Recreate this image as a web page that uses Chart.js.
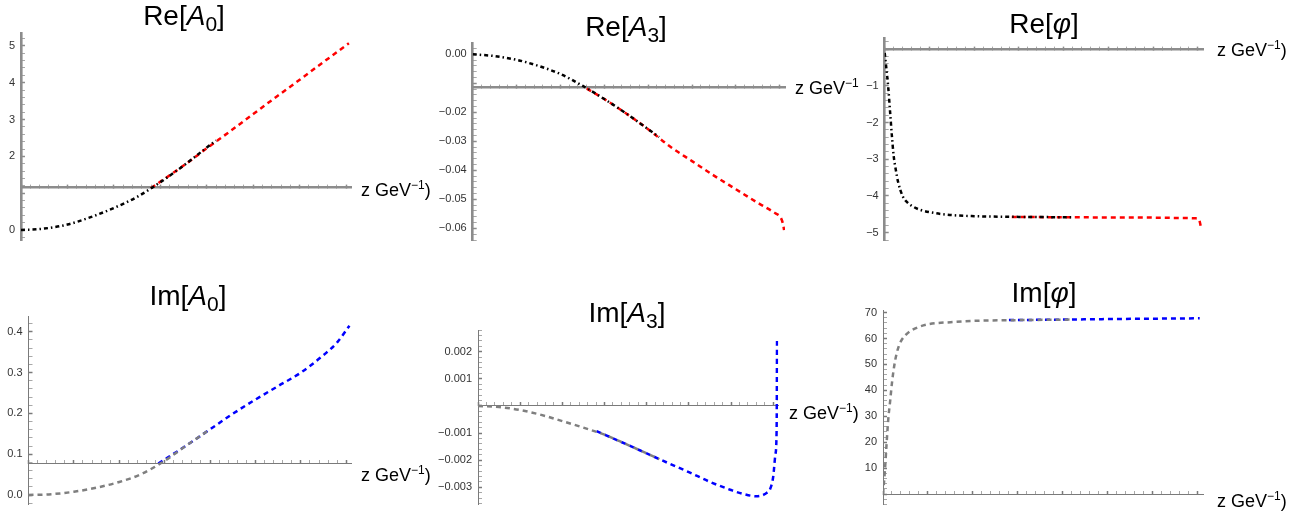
<!DOCTYPE html>
<html>
<head>
<meta charset="utf-8">
<script src="https://cdn.jsdelivr.net/npm/chart.js@4.4.1/dist/chart.umd.min.js"></script>
<style>
body { margin: 0; background: #fff; width: 1316px; height: 521px; position: relative; overflow: hidden; font-family: "Liberation Sans", Arial, sans-serif; }
canvas { position: absolute; }
.title { position: absolute; font-size: 28px; line-height: 28px; white-space: nowrap; transform: translateX(-50%); color: #000; }
.title sub { font-size: 21px; vertical-align: -6px; line-height: 0; }
.zlab { position: absolute; font-size: 18px; line-height: 18px; white-space: nowrap; color: #000; }
.zlab sup { font-size: 12px; vertical-align: 7px; line-height: 0; }
</style>
</head>
<body>
<canvas id="c1" width="430" height="260" style="left:0px;top:0px"></canvas>
<canvas id="c2" width="430" height="260" style="left:430px;top:0px"></canvas>
<canvas id="c3" width="456" height="260" style="left:860px;top:0px"></canvas>
<canvas id="c4" width="430" height="261" style="left:0px;top:260px"></canvas>
<canvas id="c5" width="430" height="261" style="left:430px;top:260px"></canvas>
<canvas id="c6" width="456" height="261" style="left:860px;top:260px"></canvas>

<div class="title" style="left:184px;top:2px">Re[<i>A</i><sub>0</sub>]</div>
<div class="title" style="left:626px;top:13px">Re[<i>A</i><sub>3</sub>]</div>
<div class="title" style="left:1044px;top:10px">Re[<i>φ</i>]</div>
<div class="title" style="left:188px;top:282px">Im[<i>A</i><sub>0</sub>]</div>
<div class="title" style="left:627px;top:299px">Im[<i>A</i><sub>3</sub>]</div>
<div class="title" style="left:1044px;top:279px">Im[<i>φ</i>]</div>

<div class="zlab" style="left:361px;top:181px">z GeV<sup>−1</sup>)</div>
<div class="zlab" style="left:795px;top:79px">z GeV<sup>−1</sup></div>
<div class="zlab" style="left:1217px;top:41px">z GeV<sup>−1</sup>)</div>
<div class="zlab" style="left:361px;top:466px">z GeV<sup>−1</sup>)</div>
<div class="zlab" style="left:789px;top:404px">z GeV<sup>−1</sup>)</div>
<div class="zlab" style="left:1217px;top:492px">z GeV<sup>−1</sup>)</div>

<script>
// Re[A0]
const zReA0Black = [0, 0.5, 1, 1.5, 2, 2.5, 3, 3.5, 4, 4.2];
const reA0Black = [0, 0.04, 0.15, 0.35, 0.6, 0.9, 1.3, 1.75, 2.24, 2.43];
const zReA0Red = [2.8, 3.5, 4, 4.5, 5, 5.5, 6, 6.5, 7.06];
const reA0Red = [1.14, 1.75, 2.22, 2.68, 3.15, 3.62, 4.08, 4.55, 5.07];
const reA0Ticks = [0, 2, 3, 4, 5];
const reA0Labels = ['0', '2', '3', '4', '5'];

// Re[A3]
const zReA3Black = [0, 0.5, 1, 1.5, 2, 2.5, 3, 3.5, 4, 4.25];
const reA3Black = [0, -0.0006, -0.0019, -0.004, -0.0068, -0.0108, -0.0154, -0.0204, -0.0258, -0.0285];
const zReA3Red = [2.6, 3, 3.5, 4, 4.5, 5, 5.5, 6, 6.5, 6.9, 7.02, 7.07, 7.1];
const reA3Red = [-0.0118, -0.0154, -0.0204, -0.0258, -0.0318, -0.0368, -0.0418, -0.0465, -0.0512, -0.0548, -0.0562, -0.0582, -0.0606];
const reA3Ticks = [0, -0.02, -0.03, -0.04, -0.05, -0.06];
const reA3Labels = ['0.00', '−0.02', '−0.03', '−0.04', '−0.05', '−0.06'];

// Re[phi]
const zRePhiBlack = [0, 0.04, 0.08, 0.12, 0.16, 0.2, 0.25, 0.3, 0.4, 0.5, 0.65, 0.8, 1, 1.4, 2, 3, 4.2];
const rePhiBlack = [-0.1, -0.55, -1.05, -1.7, -2.35, -2.9, -3.3, -3.62, -4.0, -4.17, -4.3, -4.38, -4.44, -4.51, -4.55, -4.57, -4.58];
const zRePhiRed = [2.84, 4, 5, 6, 6.6, 6.95, 7.02, 7.05, 7.07];
const rePhiRed = [-4.57, -4.58, -4.585, -4.59, -4.6, -4.61, -4.64, -4.75, -4.88];
const rePhiTicks = [-1, -2, -3, -4, -5];
const rePhiLabels = ['−1', '−2', '−3', '−4', '−5'];

// Im[A0]
const zImA0Gray = [0, 0.5, 1, 1.5, 2, 2.5, 3, 3.5, 4];
const imA0Gray = [0, 0.002, 0.008, 0.018, 0.032, 0.052, 0.084, 0.123, 0.161];
const zImA0Blue = [2.86, 3.5, 4, 4.5, 5, 5.5, 6, 6.5, 6.8, 7.07];
const imA0Blue = [0.077, 0.123, 0.161, 0.199, 0.234, 0.267, 0.3, 0.343, 0.374, 0.415];
const imA0Ticks = [0, 0.1, 0.2, 0.3, 0.4];
const imA0Labels = ['0.0', '0.1', '0.2', '0.3', '0.4'];

// Im[A3]
const zImA3Gray = [0, 0.5, 1, 1.5, 2, 2.5, 3, 3.5, 4, 4.3];
const imA3Gray = [0, -0.00004, -0.00015, -0.00033, -0.00056, -0.0008, -0.00106, -0.0014, -0.00175, -0.00196];
const zImA3Blue = [2.81, 3.5, 4, 4.5, 5, 5.5, 6, 6.3, 6.6, 6.85, 6.93, 7.0, 7.05, 7.08, 7.09];
const imA3Blue = [-0.00093, -0.0014, -0.00175, -0.0021, -0.00244, -0.0028, -0.0031, -0.00325, -0.00333, -0.0032, -0.00305, -0.0026, -0.0018, -0.0009, 0.0024];
const imA3Ticks = [0.002, 0.001, -0.001, -0.002, -0.003];
const imA3Labels = ['0.002', '0.001', '−0.001', '−0.002', '−0.003'];

// Im[phi]
const zImPhiGray = [0, 0.04, 0.08, 0.12, 0.16, 0.2, 0.25, 0.3, 0.35, 0.4, 0.5, 0.6, 0.8, 1, 1.5, 2, 3, 4.17];
const imPhiGray = [0, 8.5, 19.5, 29.5, 36, 43, 49.5, 54, 57, 59, 61.3, 62.8, 64.5, 65.5, 66.3, 66.8, 67.1, 67.3];
const zImPhiBlue = [2.8, 4, 5, 6, 7.04];
const imPhiBlue = [67.1, 67.3, 67.5, 67.65, 67.8];
const imPhiTicks = [10, 20, 30, 40, 50, 60, 70];
const imPhiLabels = ['10', '20', '30', '40', '50', '60', '70'];

const zMax = 7.12;
const dotDash = [4, 3, 1.5, 3];
const dashed = [5, 4];

const panels = [
  { id: 'c1', box: [0, 0, 430, 260], area: [21, 33, 351.7, 240], yMin: -0.27, yMax: 5.35, minor: 0.2, major: 1, axisAt: 1.15,
    ticks: reA0Ticks, labels: reA0Labels, thick: true,
    series: [[zReA0Black, reA0Black, '#000000', dotDash], [zReA0Red, reA0Red, '#ff0000', dashed]] },
  { id: 'c2', box: [430, 0, 430, 260], area: [472.7, 43.3, 785, 240], yMin: -0.064, yMax: 0.0038, minor: 0.002, major: 0.01, axisAt: -0.0114,
    ticks: reA3Ticks, labels: reA3Labels, thick: true,
    series: [[zReA3Black, reA3Black, '#000000', dotDash], [zReA3Red, reA3Red, '#ff0000', dashed]] },
  { id: 'c3', box: [860, 0, 456, 260], area: [884.7, 38.3, 1203.3, 240], yMin: -5.2, yMax: 0.3, minor: 0.2, major: 1, axisAt: 0,
    ticks: rePhiTicks, labels: rePhiLabels, thick: true,
    series: [[zRePhiBlack, rePhiBlack, '#000000', dotDash], [zRePhiRed, rePhiRed, '#ff0000', dashed]] },
  { id: 'c4', box: [0, 260, 430, 261], area: [28.5, 316.7, 351.7, 516.7], yMin: -0.023, yMax: 0.437, minor: 0.02, major: 0.1, axisAt: 0.0766,
    ticks: imA0Ticks, labels: imA0Labels, thick: false,
    series: [[zImA0Gray, imA0Gray, '#7f7f7f', dashed], [zImA0Blue, imA0Blue, '#0000ff', dashed]] },
  { id: 'c5', box: [430, 260, 430, 261], area: [478, 330, 778.3, 516.7], yMin: -0.00363, yMax: 0.0028, minor: 0.0002, major: 0.001, axisAt: 0,
    ticks: imA3Ticks, labels: imA3Labels, thick: false,
    series: [[zImA3Gray, imA3Gray, '#7f7f7f', dashed], [zImA3Blue, imA3Blue, '#0000ff', dashed]] },
  { id: 'c6', box: [860, 260, 456, 261], area: [883, 310, 1203.3, 510], yMin: -4, yMax: 71, minor: 2, major: 10, axisAt: 0,
    ticks: imPhiTicks, labels: imPhiLabels, thick: false,
    series: [[zImPhiGray, imPhiGray, '#7f7f7f', dashed], [zImPhiBlue, imPhiBlue, '#0000ff', dashed]] }
];

Chart.defaults.font.family = '"Liberation Sans", Arial, sans-serif';

function tickList(min, max, step) {
  let out = [];
  let start = Math.ceil(min / step - 1e-9);
  let end = Math.floor(max / step + 1e-9);
  for (let k = start; k <= end; k++) {
    out.push({ value: +(k * step).toFixed(10) });
  }
  return out;
}

function isMajor(v, step) {
  let r = v / step;
  return Math.abs(r - Math.round(r)) < 1e-6;
}

function renderPanel(p) {
  const axisColor = p.thick ? '#8c8c8c' : '#7a7a7a';
  const axisWidth = p.thick ? 2.6 : 1;

  const datasets = p.series.map(s => ({
    data: s[0].map((z, i) => ({ x: z, y: s[1][i] })),
    borderColor: s[2],
    borderDash: s[3],
    borderWidth: 2.5,
    pointRadius: 0,
    fill: false,
    cubicInterpolationMode: 'monotone'
  }));

  new Chart(document.getElementById(p.id), {
    type: 'line',
    data: { datasets: datasets },
    options: {
      responsive: false,
      animation: false,
      layout: {
        padding: {
          left: 0,
          top: p.area[1] - p.box[1],
          right: p.box[0] + p.box[2] - p.area[2],
          bottom: p.box[1] + p.box[3] - p.area[3]
        }
      },
      plugins: { legend: { display: false }, tooltip: { enabled: false } },
      scales: {
        x: {
          type: 'linear',
          min: 0,
          max: zMax,
          position: { y: p.axisAt },
          afterBuildTicks: axis => { axis.ticks = tickList(0, zMax, 0.2); },
          ticks: { display: false, autoSkip: false },
          grid: {
            drawOnChartArea: false,
            tickLength: -4,
            tickColor: ctx => isMajor(ctx.tick.value, 1) ? axisColor : '#a8a8a8',
            tickWidth: ctx => isMajor(ctx.tick.value, 1) ? 1.5 : 1
          },
          border: { color: axisColor, width: axisWidth }
        },
        y: {
          type: 'linear',
          position: 'left',
          min: p.yMin,
          max: p.yMax,
          afterFit: scale => { scale.width = p.area[0] - p.box[0]; },
          afterBuildTicks: axis => { axis.ticks = tickList(p.yMin, p.yMax, p.minor); },
          ticks: {
            autoSkip: false,
            padding: 10,
            color: '#333333',
            font: { size: 11 },
            callback: value => {
              for (let i = 0; i < p.ticks.length; i++) {
                if (Math.abs(p.ticks[i] - value) < p.minor * 1e-3) return p.labels[i];
              }
              return '';
            }
          },
          grid: {
            drawOnChartArea: false,
            tickLength: -4,
            tickColor: ctx => isMajor(ctx.tick.value, p.major) ? axisColor : '#a8a8a8',
            tickWidth: ctx => isMajor(ctx.tick.value, p.major) ? 1.5 : 1
          },
          border: { color: axisColor, width: axisWidth }
        }
      }
    }
  });
}

for (let i = 0; i < panels.length; i++) {
  renderPanel(panels[i]);
}
</script>
</body>
</html>
